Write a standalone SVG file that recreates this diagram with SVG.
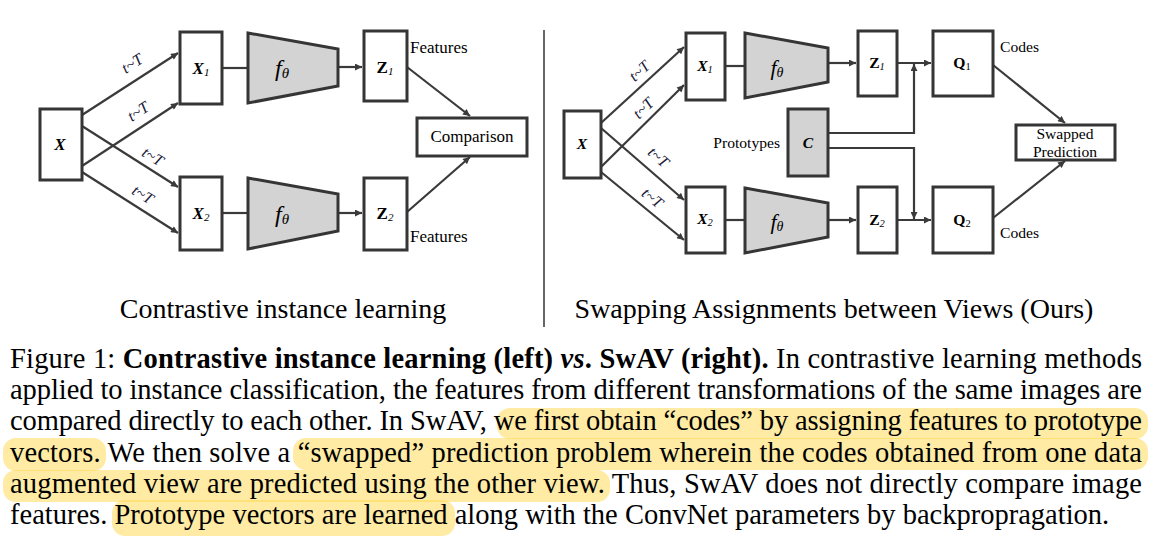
<svg xmlns="http://www.w3.org/2000/svg" width="1152" height="537" viewBox="0 0 1152 537">
<style>
.box{fill:#fff;stroke:#353535;stroke-width:3}
.gray{fill:#d3d3d3;stroke:#353535;stroke-width:3}
.ln{fill:none;stroke:#3a3a3a;stroke-width:2.2}
.ar{fill:none;stroke:#3a3a3a;stroke-width:2.2;marker-end:url(#ah)}
.t{font-family:"Liberation Serif","Times New Roman",serif;fill:#000}
.lab{font-size:17px}
.labr{font-size:15.6px}
.tt{font-family:"Liberation Serif",serif;font-style:italic;font-size:16px;fill:#1a1a3a}
.hl{fill:#ffd84a;fill-opacity:0.5}
.cap{font-family:"Liberation Serif","Times New Roman",serif;font-size:28.5px;fill:#000}
</style>
<defs>
<marker id="ah" viewBox="0 0 10 10" refX="10" refY="5" markerWidth="9" markerHeight="7" markerUnits="userSpaceOnUse" orient="auto">
<path d="M0,0 L10,5 L0,10 z" fill="#3a3a3a"/>
</marker>
</defs>
<rect width="1152" height="537" fill="#fff"/>

<!-- highlights -->
<g id="highlights">
<rect class="hl" x="497" y="408" width="651" height="31" rx="13"/>
<rect class="hl" x="3" y="438" width="103" height="33" rx="13"/>
<rect class="hl" x="293" y="438" width="855" height="32" rx="13"/>
<rect class="hl" x="3" y="470" width="607" height="32" rx="13"/>
<rect class="hl" x="112" y="500" width="343" height="36" rx="13"/>
</g>

<!-- connectors -->
<g id="connectors">
<line class="ar" x1="82" y1="115" x2="178" y2="53"/>
<line class="ar" x1="82" y1="166" x2="178" y2="103"/>
<line class="ar" x1="82" y1="126" x2="178" y2="187"/>
<line class="ar" x1="82" y1="172" x2="178" y2="233"/>
<line class="ln" x1="222" y1="68" x2="247" y2="68"/>
<line class="ar" x1="338" y1="67" x2="362" y2="67"/>
<line class="ln" x1="222" y1="213" x2="247" y2="213"/>
<line class="ar" x1="338" y1="213" x2="362" y2="213"/>
<line class="ar" x1="407" y1="67" x2="470" y2="116"/>
<line class="ar" x1="407" y1="212" x2="470" y2="157"/>

<line class="ar" x1="601" y1="123" x2="684" y2="47"/>
<line class="ar" x1="601" y1="167" x2="684" y2="85"/>
<line class="ar" x1="601" y1="128" x2="684" y2="200"/>
<line class="ar" x1="601" y1="172" x2="684" y2="240"/>
<line class="ln" x1="725" y1="66" x2="744" y2="66"/>
<line class="ln" x1="725" y1="220" x2="744" y2="220"/>
<line class="ar" x1="828" y1="63" x2="856" y2="63"/>
<line class="ar" x1="897" y1="63" x2="931" y2="63"/>
<line class="ar" x1="828" y1="220" x2="856" y2="220"/>
<line class="ar" x1="897" y1="220" x2="931" y2="220"/>
<polyline class="ar" points="828,133 914,133 914,64"/>
<polyline class="ar" points="828,148 914,148 914,219"/>
<line class="ar" x1="993" y1="65" x2="1065" y2="123"/>
<line class="ar" x1="993" y1="218" x2="1065" y2="161"/>
</g>

<!-- transform labels -->
<g id="tlabels">
<text class="tt" text-anchor="middle" transform="translate(135,68) rotate(-32.6)">t~T</text>
<text class="tt" text-anchor="middle" transform="translate(141,116) rotate(-32.6)">t~T</text>
<text class="tt" text-anchor="middle" transform="translate(150,161) rotate(32)">t~T</text>
<text class="tt" text-anchor="middle" transform="translate(140,199) rotate(32)">t~T</text>
<text class="tt" text-anchor="middle" transform="translate(643,75) rotate(-42)" font-size="15">t~T</text>
<text class="tt" text-anchor="middle" transform="translate(647,112) rotate(-44)" font-size="15">t~T</text>
<text class="tt" text-anchor="middle" transform="translate(655,161) rotate(41)" font-size="15">t~T</text>
<text class="tt" text-anchor="middle" transform="translate(649,202) rotate(39)" font-size="15">t~T</text>
</g>

<!-- left diagram -->
<g id="L_X"><rect class="box" x="40" y="109" width="42" height="71"/>
<text class="t lab" x="60" y="150" text-anchor="middle" font-weight="bold" font-style="italic">X</text></g>
<g id="L_X1"><rect class="box" x="180" y="32" width="42" height="72"/>
<text class="t lab" x="201" y="74" text-anchor="middle"><tspan font-weight="bold" font-style="italic">X</tspan><tspan font-size="11" font-style="italic" dy="2">1</tspan></text></g>
<g id="L_X2"><rect class="box" x="180" y="177" width="42" height="73"/>
<text class="t lab" x="201" y="219" text-anchor="middle"><tspan font-weight="bold" font-style="italic">X</tspan><tspan font-size="11" font-style="italic" dy="2">2</tspan></text></g>
<g id="L_f1"><polygon class="gray" points="248,33 338,49 338,86 248,103"/>
<text class="t" x="282" y="76" text-anchor="middle" font-style="italic" font-size="24">f<tspan font-size="15" dy="2">θ</tspan></text></g>
<g id="L_f2"><polygon class="gray" points="248,178 338,194 338,231 248,249"/>
<text class="t" x="282" y="222" text-anchor="middle" font-style="italic" font-size="24">f<tspan font-size="15" dy="2">θ</tspan></text></g>
<g id="L_Z1"><rect class="box" x="364" y="31" width="43" height="70"/>
<text class="t lab" x="385" y="73" text-anchor="middle"><tspan font-weight="bold">Z</tspan><tspan font-size="11" font-style="italic" dy="2">1</tspan></text>
<text class="t lab" x="410" y="53">Features</text></g>
<g id="L_Z2"><rect class="box" x="364" y="178" width="43" height="72"/>
<text class="t lab" x="385" y="219" text-anchor="middle"><tspan font-weight="bold">Z</tspan><tspan font-size="11" font-style="italic" dy="2">2</tspan></text>
<text class="t lab" x="410" y="242">Features</text></g>
<g id="L_Comparison"><rect class="box" x="417" y="118" width="110" height="38"/>
<text class="t lab" x="472" y="142" text-anchor="middle">Comparison</text></g>

<!-- divider -->
<line x1="544" y1="30" x2="544" y2="327" stroke="#000" stroke-width="1.2"/>

<!-- right diagram -->
<g id="R_X"><rect class="box" x="564" y="111" width="37" height="67"/>
<text class="t labr" x="582" y="149" text-anchor="middle" font-weight="bold" font-style="italic">X</text></g>
<g id="R_X1"><rect class="box" x="686" y="33" width="39" height="67"/>
<text class="t labr" x="705" y="71" text-anchor="middle"><tspan font-weight="bold" font-style="italic">X</tspan><tspan font-size="10.5" font-style="italic" dy="2">1</tspan></text></g>
<g id="R_X2"><rect class="box" x="686" y="187" width="39" height="66"/>
<text class="t labr" x="705" y="224" text-anchor="middle"><tspan font-weight="bold" font-style="italic">X</tspan><tspan font-size="10.5" font-style="italic" dy="2">2</tspan></text></g>
<g id="R_f1"><polygon class="gray" points="745,33 828,48 828,82 745,98"/>
<text class="t" x="777" y="75" text-anchor="middle" font-style="italic" font-size="22">f<tspan font-size="14" dy="2">θ</tspan></text></g>
<g id="R_f2"><polygon class="gray" points="745,188 828,203 828,237 745,253"/>
<text class="t" x="777" y="229" text-anchor="middle" font-style="italic" font-size="22">f<tspan font-size="14" dy="2">θ</tspan></text></g>
<g id="R_C"><rect class="gray" x="788" y="109" width="40" height="67"/>
<text class="t labr" x="808" y="148" text-anchor="middle" font-weight="bold" font-style="italic">C</text>
<text class="t labr" x="780" y="148" text-anchor="end">Prototypes</text></g>
<g id="R_Z1"><rect class="box" x="858" y="31" width="39" height="65"/>
<text class="t labr" x="877" y="68" text-anchor="middle"><tspan font-weight="bold">Z</tspan><tspan font-size="10.5" font-style="italic" dy="2">1</tspan></text></g>
<g id="R_Z2"><rect class="box" x="858" y="187" width="39" height="66"/>
<text class="t labr" x="877" y="225" text-anchor="middle"><tspan font-weight="bold">Z</tspan><tspan font-size="10.5" font-style="italic" dy="2">2</tspan></text></g>
<g id="R_Q1"><rect class="box" x="933" y="31" width="60" height="65"/>
<text class="t labr" x="962" y="68" text-anchor="middle"><tspan font-weight="bold">Q</tspan><tspan font-size="10.5" dy="2">1</tspan></text>
<text class="t labr" x="1000" y="52">Codes</text></g>
<g id="R_Q2"><rect class="box" x="933" y="187" width="60" height="66"/>
<text class="t labr" x="962" y="225" text-anchor="middle"><tspan font-weight="bold">Q</tspan><tspan font-size="10.5" dy="2">2</tspan></text>
<text class="t labr" x="1000" y="238">Codes</text></g>
<g id="R_Swapped"><rect class="box" x="1016" y="125" width="99" height="35"/>
<text class="t labr" x="1065" y="139" text-anchor="middle">Swapped</text>
<text class="t labr" x="1065" y="157" text-anchor="middle">Prediction</text></g>

<!-- subtitles -->
<text class="t" x="283" y="318" font-size="28" text-anchor="middle">Contrastive instance learning</text>
<text class="t" x="834" y="318" font-size="28" text-anchor="middle">Swapping Assignments between Views (Ours)</text>

<!-- caption -->
<g id="caption">
<text class="cap" x="10" y="368" textLength="1132" lengthAdjust="spacing">Figure 1: <tspan font-weight="bold">Contrastive instance learning (left) <tspan font-style="italic">vs</tspan>. SwAV (right).</tspan> In contrastive learning methods</text>
<text class="cap" x="10" y="399" textLength="1132" lengthAdjust="spacing">applied to instance classification, the features from different transformations of the same images are</text>
<text class="cap" x="10" y="430" textLength="1132" lengthAdjust="spacing">compared directly to each other. In SwAV, we first obtain “codes” by assigning features to prototype</text>
<text class="cap" x="10" y="462" textLength="1132" lengthAdjust="spacing">vectors. We then solve a “swapped” prediction problem wherein the codes obtained from one data</text>
<text class="cap" x="10" y="493" textLength="1132" lengthAdjust="spacing">augmented view are predicted using the other view. Thus, SwAV does not directly compare image</text>
<text class="cap" x="10" y="524">features. Prototype vectors are learned along with the ConvNet parameters by backpropragation.</text>
</g>
</svg>
